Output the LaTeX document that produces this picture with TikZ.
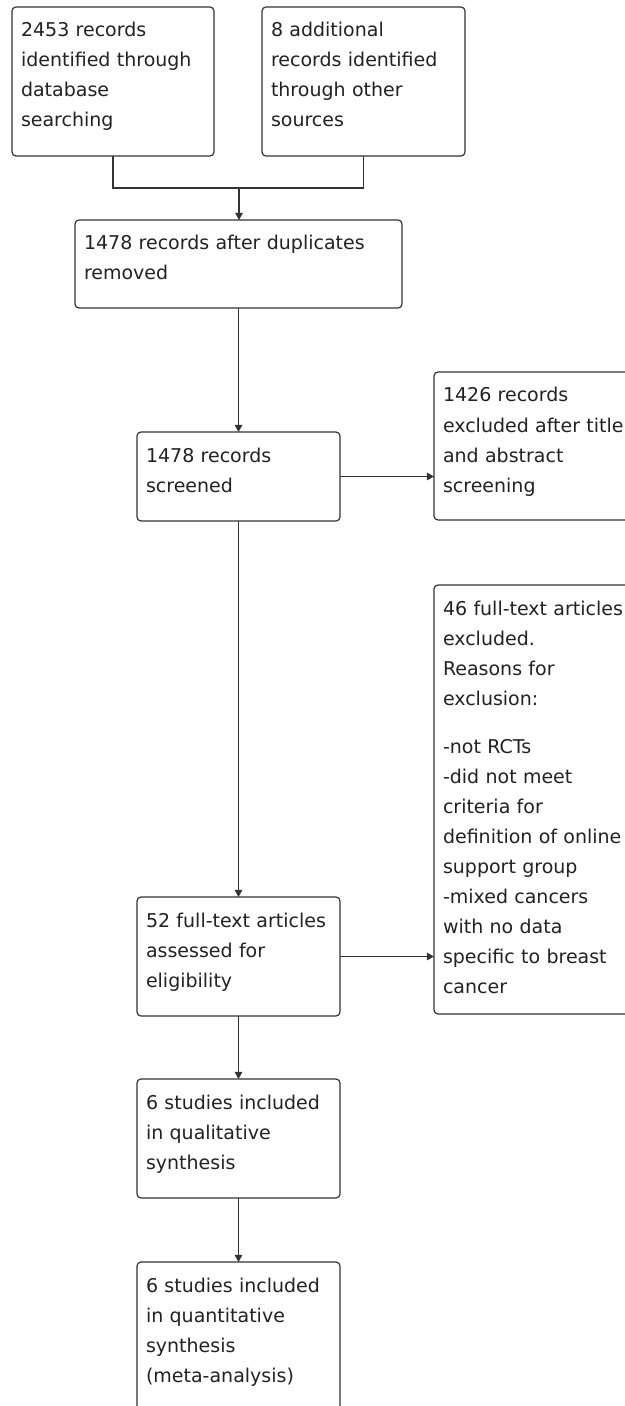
\documentclass[tikz,border=0pt]{standalone}
\usepackage{fontspec}
\setmainfont{DejaVu Sans}
\usetikzlibrary{arrows.meta,positioning,calc}
\definecolor{lineColor}{HTML}{333333}
\definecolor{txtColor}{HTML}{222222}
\tikzset{
	flow/.style={draw=lineColor, line width=0.6pt, rounded corners=2pt, outer sep=0,
		anchor=north west, align=left, inner xsep=4.5pt, inner ysep=4pt,
		text height=11pt, text=txtColor, font=\fontsize{9.5pt}{15pt}\selectfont},
	flowsize/.style 2 args={text width=#1, text depth=#2},
	link/.style={draw=lineColor, line width=0.6pt},
	linkarrow/.style={link, -{Triangle[length=3.6pt,width=3.8pt]}}
}

\begin{document}
\begin{tikzpicture}[x=0.5pt, y=-0.5pt]
	\path[use as bounding box] (0,0) rectangle (625,1406);
	\clip (0,0) rectangle (625,1406);
	\fill[white] (0,0) rectangle (625,1406);
	
	\node[flow, flowsize={92pt}{55.5pt}] (ident) at (12,7) {2453 records\\ identified through\\ database\\ searching};
	\node[flow, flowsize={92.5pt}{55.5pt}] (other) at (262,7) {8 additional\\ records identified\\ through other\\ sources};
	\node[flow, flowsize={154.5pt}{25pt}] (dupl) at (75,220) {1478 records after duplicates\\ removed};
	\node[flow, flowsize={92.5pt}{25.5pt}] (screen) at (137,432) {1478 records\\ screened};
	\node[flow, flowsize={92.5pt}{55pt}] (excl) at (434,372) {1426 records\\ excluded after title\\ and abstract\\ screening};
	\node[flow, flowsize={92.5pt}{195.5pt}] (ftexcl) at (434,585) {46 full-text articles\\ excluded.\\ Reasons for\\ exclusion:\\[9pt] -not RCTs\\ -did not meet\\ criteria for\\ definition of online\\ support group\\ -mixed cancers\\ with no data\\ specific to breast\\ cancer};
	\node[flow, flowsize={92.5pt}{40.5pt}] (elig) at (137,897) {52 full-text articles\\ assessed for\\ eligibility};
	\node[flow, flowsize={92.5pt}{40.5pt}] (qual) at (137,1079) {6 studies included\\ in qualitative\\ synthesis};
	\node[flow, flowsize={92.5pt}{65pt}] (quant) at (137,1262) {6 studies included\\ in quantitative\\ synthesis\\ (meta-analysis)};
	
	\coordinate (merge) at (239,188);
	\draw[link] (ident.south) |- (merge) -| (other.south);
	\draw[linkarrow] (merge) -- (merge |- dupl.north);
	\draw[linkarrow] (dupl.south -| screen.north) -- (screen.north);
	\draw[linkarrow] (screen.east) -- (screen.east -| excl.west);
	\draw[linkarrow] (screen.south) -- (elig.north);
	\draw[linkarrow] (elig.east) -- (elig.east -| ftexcl.west);
	\draw[linkarrow] (elig.south) -- (qual.north);
	\draw[linkarrow] (qual.south) -- (quant.north);
\end{tikzpicture}
\end{document}
